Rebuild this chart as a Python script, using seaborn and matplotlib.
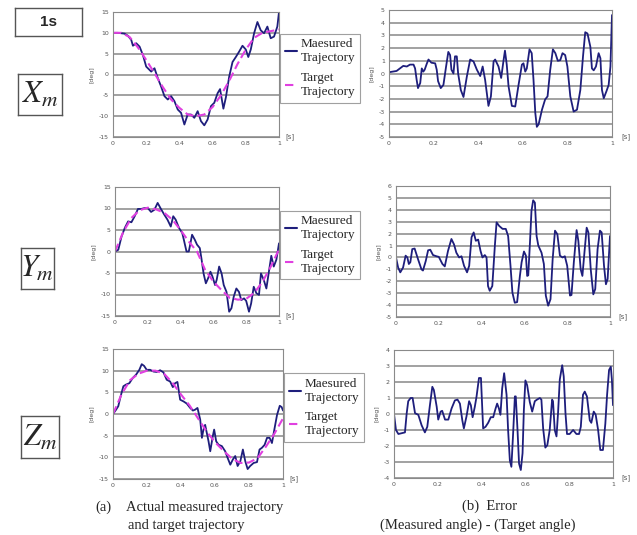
import numpy as np
import matplotlib
matplotlib.use("Agg")
import matplotlib.pyplot as plt
from matplotlib.lines import Line2D
import seaborn as sns

sns.set_theme(style="white")
plt.rcParams['font.family'] = ['DejaVu Sans']
plt.rcParams['mathtext.fontset'] = 'stix'
plt.rcParams['axes.unicode_minus'] = False

# --- dados ---
x_ticks = [0, 0.2, 0.4, 0.6, 0.8, 1.0]
x_tick_labels = ['0', '0.2', '0.4', '0.6', '0.8', '1']

target_t = [0, 0.05, 0.1, 0.15, 0.2, 0.25, 0.3, 0.35, 0.4, 0.45, 0.5,
            0.55, 0.6, 0.65, 0.7, 0.75, 0.8, 0.85, 0.9, 0.95, 1.0]

# X
x_meas_t = [0.00, 0.03, 0.07, 0.09, 0.11, 0.12, 0.14, 0.16, 0.18, 0.20,
            0.21, 0.23, 0.25, 0.27, 0.29, 0.31, 0.33, 0.35, 0.37, 0.39,
            0.41, 0.43, 0.45, 0.47, 0.49, 0.51, 0.53, 0.55, 0.57, 0.59,
            0.61, 0.63, 0.645, 0.665, 0.68, 0.70, 0.72, 0.74, 0.76, 0.78,
            0.80, 0.815, 0.83, 0.85, 0.87, 0.89, 0.91, 0.93, 0.95, 0.97,
            0.99, 1.00]
x_meas = [10.0, 10.0, 9.8, 9.3, 8.3, 6.9, 7.5, 6.7, 4.7, 1.9,
          1.5, 0.7, 1.5, -0.9, -2.9, -5.2, -6.0, -5.2, -6.4, -8.4,
          -9.2, -12.0, -9.6, -9.6, -10.4, -8.8, -11.2, -12.2, -10.8, -7.6,
          -6.8, -4.5, -3.5, -8.2, -5.5, -0.5, 3.0, 4.2, 5.5, 6.9,
          6.0, 4.2, 6.0, 9.9, 12.6, 10.6, 9.9, 11.5, 8.7, 9.1,
          11.5, 15.0]
x_target = [10, 10, 9, 6.5, 3.5, 0.3, -3, -6, -8, -9.6, -10,
            -9.6, -7.8, -5, -1.5, 2.5, 6, 8.8, 10, 10.4, 10.8]

x_err_t = [0.00, 0.034, 0.064, 0.08, 0.094, 0.11, 0.117, 0.124, 0.13, 0.14,
           0.147, 0.154, 0.16, 0.17, 0.177, 0.19, 0.207, 0.214, 0.22, 0.232,
           0.244, 0.256, 0.266, 0.274, 0.28, 0.289, 0.296, 0.304, 0.31, 0.322,
           0.334, 0.349, 0.364, 0.379, 0.394, 0.409, 0.42, 0.431, 0.446, 0.457,
           0.469, 0.476, 0.491, 0.503, 0.513, 0.52, 0.528, 0.536, 0.551, 0.566,
           0.58, 0.596, 0.603, 0.611, 0.618, 0.63, 0.64, 0.648, 0.656, 0.663,
           0.671, 0.686, 0.70, 0.711, 0.723, 0.735, 0.746, 0.757, 0.768, 0.778,
           0.79, 0.80, 0.813, 0.828, 0.843, 0.858, 0.87, 0.88, 0.89, 0.903,
           0.91, 0.918, 0.928, 0.94, 0.948, 0.955, 0.963, 0.975, 0.985, 0.993,
           1.0]
x_err = [0.1, 0.2, 0.6, 0.55, 0.7, 0.7, 0.4, -0.5, -1.15, -0.75,
         0.4, 0.15, 0.3, 0.8, 1.1, 0.85, 0.8, 0.3, -0.6, -1.15,
         -0.9, 0.55, 1.7, 1.45, 0.3, 0.0, 1.35, 1.35, 0.0, -1.3,
         -1.85, -0.25, 1.1, 0.95, 0.3, -0.2, 0.55, -0.5, -2.55, -1.8,
         0.95, 1.1, 0.55, -0.35, 0.95, 1.8, 0.7, -1.0, -2.55, -2.6,
         -1.0, 0.7, 0.8, 0.15, 0.4, 1.9, 1.6, -0.5, -3.1, -4.2,
         -4.0, -2.85, -2.05, -1.8, 0.3, 1.9, 1.6, 1.0, 1.05, 1.6,
         1.45, 0.55, -1.8, -3.0, -2.85, -1.3, 1.35, 3.25, 3.15, 2.1,
         0.4, 0.25, 0.55, 1.6, 1.2, -1.3, -1.95, -1.4, -0.9, 0.55,
         4.6]

# Y
y_meas_t = [0.00, 0.02, 0.04, 0.06, 0.08, 0.10, 0.12, 0.14, 0.16, 0.18,
            0.20, 0.22, 0.24, 0.26, 0.28, 0.30, 0.32, 0.34, 0.355, 0.37,
            0.39, 0.41, 0.42, 0.436, 0.45, 0.46, 0.47, 0.487, 0.50, 0.517,
            0.527, 0.54, 0.554, 0.568, 0.582, 0.594, 0.61, 0.62, 0.635, 0.65,
            0.663, 0.68, 0.696, 0.71, 0.724, 0.74, 0.756, 0.77, 0.787, 0.80,
            0.817, 0.83, 0.846, 0.862, 0.878, 0.89, 0.907, 0.923, 0.94, 0.953,
            0.968, 0.984, 1.00]
y_meas = [0.0, 0.4, 3.5, 5.5, 7.0, 6.8, 8.2, 9.9, 9.9, 10.1,
          10.1, 9.2, 9.7, 11.3, 9.9, 8.6, 7.4, 5.8, 8.2, 7.4,
          5.5, 4.3, 2.7, 0.0, 0.0, 1.9, 3.9, 2.7, 1.6, 0.8,
          -1.6, -5.1, -7.4, -6.2, -4.7, -5.8, -7.8, -6.6, -3.5, -5.1,
          -7.8, -9.4, -14.0, -13.2, -10.5, -8.6, -9.4, -11.3, -10.9, -11.5,
          -14.0, -12.1, -8.2, -9.7, -10.1, -5.1, -6.6, -8.6, -4.3, -1.0,
          -3.5, -1.9, 1.9]
y_target = [0, 4.5, 7.8, 9.6, 10.2, 9.8, 9.0, 7.4, 5.0, 2.3, 0.0,
            -4.3, -7.0, -9.0, -10.8, -11.2, -11.0, -9.6, -7.0, -3.5, 0.5]

y_err_t = [0.00, 0.01, 0.02, 0.033, 0.045, 0.053, 0.06, 0.067, 0.076, 0.087,
           0.103, 0.119, 0.126, 0.139, 0.15, 0.16, 0.173, 0.189, 0.20, 0.217,
           0.228, 0.243, 0.259, 0.271, 0.282, 0.295, 0.306, 0.318, 0.332, 0.342,
           0.353, 0.363, 0.373, 0.384, 0.395, 0.404, 0.415, 0.423, 0.43, 0.438,
           0.45, 0.462, 0.47, 0.482, 0.498, 0.513, 0.524, 0.535, 0.544, 0.555,
           0.566, 0.579, 0.587, 0.598, 0.607, 0.613, 0.618, 0.626, 0.633, 0.641,
           0.649, 0.657, 0.665, 0.68, 0.691, 0.70, 0.711, 0.722, 0.732, 0.743,
           0.754, 0.766, 0.778, 0.789, 0.80, 0.813, 0.82, 0.831, 0.844, 0.852,
           0.863, 0.871, 0.88, 0.891, 0.899, 0.91, 0.922, 0.931, 0.942, 0.953,
           0.961, 0.972, 0.981, 0.989, 1.00]
y_err = [0.0, -0.85, -1.25, -0.85, 0.15, 0.0, -0.55, -0.4, 0.7, 0.75,
         -0.15, -1.0, -1.1, -0.3, 0.6, 0.65, 0.2, 0.1, 0.05, -0.55,
         -0.75, 0.55, 1.55, 1.1, 0.4, 0.0, 0.1, -0.7, -1.25, -0.7,
         1.7, 2.1, 1.4, 1.5, 0.55, 0.0, 0.2, 0.0, -2.4, -2.8,
         -2.4, 1.0, 2.95, 2.65, 2.4, 2.4, 1.8, -0.7, -2.95, -3.8,
         -3.75, -1.55, -0.4, 0.5, 0.15, -1.55, -1.5, 1.25, 3.9, 4.8,
         4.6, 1.8, 1.0, 0.4, -0.55, -3.2, -4.05, -3.5, -0.15, 2.25,
         1.95, 0.15, 0.0, 0.1, -0.7, -3.2, -3.15, -0.4, 2.3, 1.4,
         -1.0, -1.55, 0.3, 2.5, 2.1, -1.0, -3.1, -2.65, 0.7, 2.25,
         2.1, -0.7, -2.25, -1.8, 1.8]

# Z
z_meas_t = [0.00, 0.018, 0.031, 0.045, 0.061, 0.077, 0.096, 0.116, 0.136, 0.155,
            0.169, 0.183, 0.198, 0.218, 0.238, 0.257, 0.277, 0.297, 0.316, 0.336,
            0.352, 0.365, 0.379, 0.395, 0.415, 0.434, 0.454, 0.47, 0.483, 0.497,
            0.513, 0.523, 0.532, 0.542, 0.552, 0.562, 0.572, 0.587, 0.595, 0.607,
            0.621, 0.64, 0.66, 0.674, 0.69, 0.705, 0.719, 0.733, 0.749, 0.764,
            0.778, 0.792, 0.807, 0.827, 0.847, 0.862, 0.876, 0.892, 0.906, 0.921,
            0.935, 0.949, 0.965, 0.981, 0.992, 1.00]
z_meas = [0.0, 1.0, 1.8, 4.1, 6.4, 6.8, 7.1, 8.3, 9.1, 10.2,
          11.5, 11.1, 10.2, 10.2, 9.8, 9.7, 10.1, 9.6, 7.9, 7.5,
          6.2, 7.1, 7.4, 3.3, 2.9, 2.4, 1.4, 0.8, 1.0, 1.4,
          -1.3, -5.5, -3.6, -2.5, -4.4, -6.3, -8.6, -5.1, -3.6, -6.3,
          -7.1, -7.4, -8.6, -10.1, -11.7, -10.5, -9.7, -12.0, -10.9, -8.2,
          -10.9, -12.7, -12.0, -11.3, -11.1, -8.2, -7.8, -7.1, -5.5, -5.5,
          -6.7, -3.6, -0.2, 1.9, 1.6, 0.8]
z_target = [0, 4.5, 7.8, 9.3, 10.0, 10.0, 9.3, 7.2, 4.5, 2.0, -1.0,
            -4.0, -6.5, -8.5, -10.3, -11.3, -11.2, -10.2, -7.5, -4.5, -1.0]

z_err_t = [0.00, 0.009, 0.02, 0.035, 0.05, 0.058, 0.065, 0.076, 0.085, 0.096,
           0.111, 0.126, 0.141, 0.152, 0.164, 0.175, 0.182, 0.195, 0.202, 0.213,
           0.22, 0.233, 0.248, 0.263, 0.278, 0.29, 0.301, 0.312, 0.319, 0.331,
           0.343, 0.351, 0.359, 0.369, 0.377, 0.388, 0.397, 0.407, 0.418, 0.43,
           0.442, 0.453, 0.464, 0.471, 0.479, 0.486, 0.494, 0.503, 0.514, 0.521,
           0.529, 0.536, 0.544, 0.552, 0.556, 0.564, 0.571, 0.579, 0.587, 0.593,
           0.60, 0.608, 0.62, 0.631, 0.643, 0.653, 0.666, 0.673, 0.681, 0.691,
           0.70, 0.711, 0.722, 0.726, 0.734, 0.742, 0.749, 0.757, 0.768, 0.775,
           0.783, 0.79, 0.802, 0.818, 0.833, 0.845, 0.853, 0.863, 0.871, 0.881,
           0.894, 0.901, 0.912, 0.921, 0.932, 0.942, 0.954, 0.965, 0.973, 0.982,
           0.99, 0.995, 1.00]
z_err = [0.0, -1.0, -1.25, -1.2, -1.15, 0.05, 0.8, 1.0, 1.0, 0.05,
         -0.05, -0.7, -1.15, -0.8, 0.55, 1.7, 1.5, 0.45, -0.35, 0.15,
         0.2, -0.35, -0.35, 0.35, 0.85, 0.9, 0.65, -0.4, -0.9, -0.15,
         0.8, 0.55, -0.2, 0.45, 1.1, 2.25, 2.25, -0.9, -0.8, -0.55,
         -0.2, -0.2, 0.35, 0.65, 0.35, -0.05, 1.6, 2.55, 1.2, -1.0,
         -2.9, -3.3, -1.2, 1.1, 1.1, -1.0, -3.1, -3.5, -2.45, 0.25,
         2.1, 1.8, 0.75, 0.15, 0.8, 0.9, 1.0, 0.9, -0.9, -2.1,
         -1.95, -1.0, 0.9, 0.8, -1.0, -1.4, 0.05, 2.15, 3.05, 2.35,
         0.05, -1.25, -1.25, -1.0, -1.25, -1.25, -0.8, 1.2, 1.4, 1.1,
         -0.4, -0.55, 0.15, -0.05, -1.0, -2.25, -2.25, -0.6, 1.2, 2.75,
         2.95, 2.15, 0.55]

legend_labels = ['Maesured\nTrajectory', 'Target\nTrajectory']

NAVY = '#1e1e7c'
PINK = '#e040e0'
GRID = '#9a9a9a'
TICK = '#555555'
W, H = 637, 535

fig = plt.figure(figsize=(W / 100, H / 100), dpi=100)


def box(l, t, r, b):
    # converte píxeis (a partir do topo) em fração da figura
    return [l / W, 1 - b / H, (r - l) / W, (b - t) / H]


def style_axes(ax, ylim, ystep):
    ax.set_xlim(0, 1)
    ax.set_ylim(*ylim)
    ax.set_xticks(x_ticks)
    ax.set_xticklabels(x_tick_labels)
    ax.set_yticks(np.arange(ylim[0], ylim[1] + 0.5, ystep))
    ax.yaxis.grid(True, color=GRID, linewidth=1.3)
    ax.xaxis.grid(False)
    ax.tick_params(labelsize=4.5, colors=TICK, length=0, pad=3)
    for s in ax.spines.values():
        s.set_color('#8a8a8a')
        s.set_linewidth(0.8)
    ax.set_xlabel('')
    ax.set_ylabel('[deg]', fontsize=4.5, color=TICK, labelpad=3)
    ax.text(1.04, 0.0, '[s]', transform=ax.transAxes, fontsize=5,
            color=TICK, va='center', ha='left')


def traj_panel(rect, t_m, v_m, v_t):
    ax = fig.add_axes(box(*rect))
    sns.lineplot(x=t_m, y=v_m, ax=ax, color=NAVY, linewidth=1.3, sort=False)
    sns.lineplot(x=target_t, y=v_t, ax=ax, color=PINK, linewidth=1.5,
                 sort=False).lines[-1].set_dashes((4, 2))
    style_axes(ax, (-15, 15), 5)
    handles = [Line2D([], [], color=NAVY, lw=1.5),
               Line2D([], [], color=PINK, lw=1.5, dashes=(4, 2))]
    leg = ax.legend(handles, legend_labels, loc='center left',
                    bbox_to_anchor=(1.0, 0.55), frameon=True, fancybox=False,
                    edgecolor='#888888', handlelength=0.9, handletextpad=0.3,
                    borderpad=0.35, labelspacing=0.6, borderaxespad=0.1,
                    prop={'family': 'Liberation Serif', 'size': 9.5})
    leg.get_frame().set_linewidth(0.8)
    return ax


def err_panel(rect, t_e, v_e, ylim):
    ax = fig.add_axes(box(*rect))
    sns.lineplot(x=t_e, y=v_e, ax=ax, color=NAVY, linewidth=1.3, sort=False)
    style_axes(ax, ylim, 1)
    return ax


def label_box(rect, text, **kw):
    lab = fig.add_axes(box(*rect))
    lab.set_xticks([])
    lab.set_yticks([])
    lab.set_facecolor('white')
    for s in lab.spines.values():
        s.set_visible(True)
        s.set_color('#555555')
        s.set_linewidth(1.0)
    lab.text(0.5, 0.5, text, ha='center', va='center',
             transform=lab.transAxes, **kw)


traj_panel((113, 12, 279, 137), x_meas_t, x_meas, x_target)
err_panel((389, 10, 612, 137), x_err_t, x_err, (-5, 5))
traj_panel((115, 187, 279, 316), y_meas_t, y_meas, y_target)
err_panel((396, 186, 610, 317), y_err_t, y_err, (-5, 6))
traj_panel((113, 349, 283, 479), z_meas_t, z_meas, z_target)
err_panel((394, 350, 613, 478), z_err_t, z_err, (-4, 4))

label_box((15, 8, 82, 36), '1s', fontsize=11, fontweight='bold',
          family='Liberation Sans')
label_box((18, 74, 62, 115), '$X_m$', fontsize=22)
label_box((21, 248, 54, 289), '$Y_m$', fontsize=22)
label_box((21, 416, 59, 458), '$Z_m$', fontsize=22)

cap = {'family': 'Liberation Serif', 'size': 10.5, 'va': 'center'}
fig.text(95 / W, 1 - 507 / H, '(a)', **cap)
fig.text(126 / W, 1 - 507 / H, 'Actual measured trajectory', **cap)
fig.text(128 / W, 1 - 525 / H, 'and target trajectory', **cap)
fig.text(462 / W, 1 - 506 / H, '(b)  Error', **cap)
fig.text(380 / W, 1 - 525 / H, '(Measured angle) - (Target angle)', **cap)

fig.savefig('out.png', dpi=100)
plt.close(fig)
